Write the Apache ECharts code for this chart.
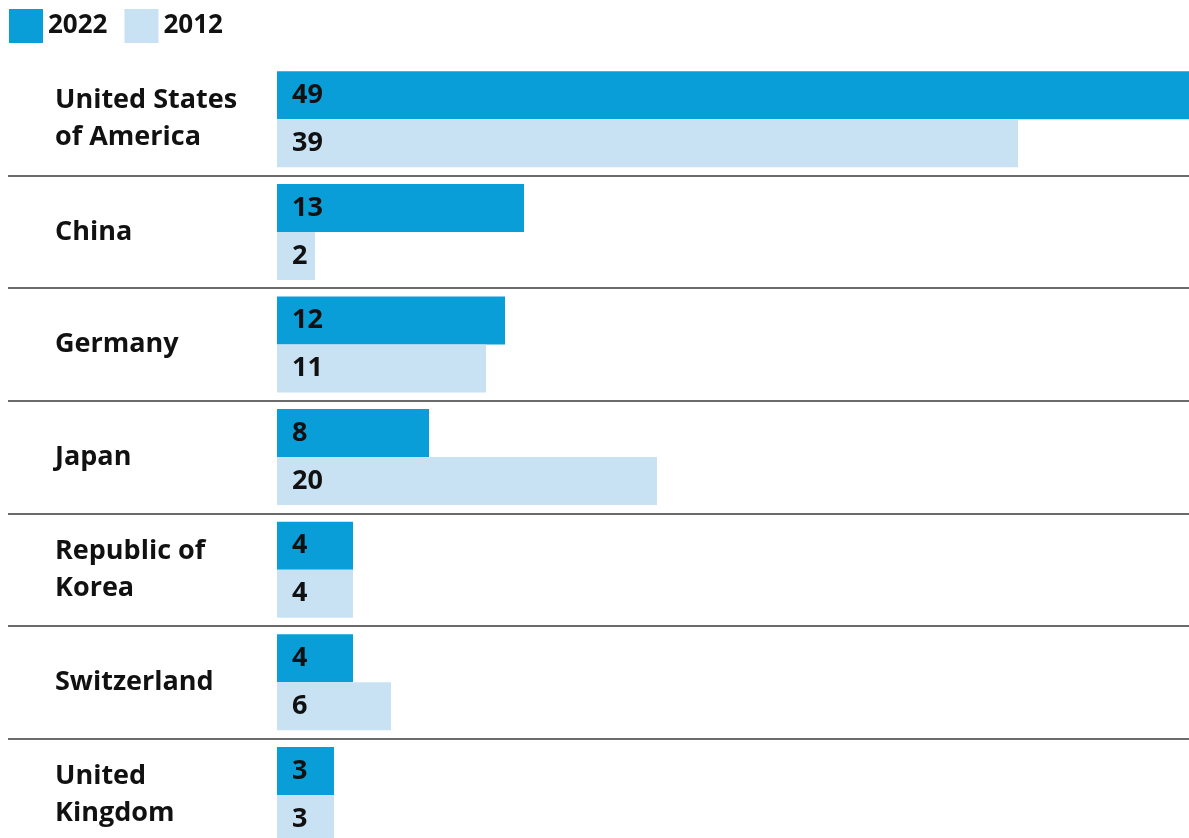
<!DOCTYPE html>
<html>
<head>
<meta charset="utf-8">
<script src="https://cdn.jsdelivr.net/npm/echarts@6/dist/echarts.min.js"></script>
<style>
  html, body { margin: 0; padding: 0; background: #ffffff; }
  #chart { width: 1189px; height: 838px; }
</style>
</head>
<body>
<div id="chart"></div>
<script>
// Countries, top to bottom
const countries = [
  'United States\nof America',
  'China',
  'Germany',
  'Japan',
  'Republic of\nKorea',
  'Switzerland',
  'United\nKingdom'
];
const seriesNames = ['2022', '2012'];
const values2022 = [49, 13, 12, 8, 4, 4, 3];
const values2012 = [39, 2, 11, 20, 4, 6, 3];

const FONT = '"Open Sans", "Noto Sans", sans-serif';
const DARK = '#0a9ed9';
const LIGHT = '#c8e2f4';

// Row geometry (the last row runs past the bottom edge)
const TOP = 63;
const ROW = 112.6;
const PX_PER_UNIT = 19;
const X_MAX = 49;

const chart = echarts.init(document.getElementById('chart'), null, { renderer: 'canvas' });

const valueLabel = {
  show: true,
  position: 'insideLeft',
  distance: 15,
  color: '#111111',
  fontFamily: FONT,
  fontWeight: 'bold',
  fontSize: 27
};

chart.setOption({
  animation: false,
  backgroundColor: '#ffffff',
  color: [DARK, LIGHT],
  legend: {
    left: 9,
    top: 9,
    padding: 0,
    icon: 'rect',
    itemWidth: 34,
    itemHeight: 34,
    itemGap: 17,
    data: seriesNames,
    textStyle: {
      color: '#111111',
      fontFamily: FONT,
      fontWeight: 'bold',
      fontSize: 26
    }
  },
  grid: [
    // bars
    {
      left: 277, top: TOP,
      width: X_MAX * PX_PER_UNIT, height: ROW * countries.length,
      outerBoundsMode: 'none', containLabel: false
    },
    // row separators spanning the full width
    {
      left: 8, right: 0, top: TOP, height: ROW * countries.length,
      outerBoundsMode: 'none', containLabel: false
    }
  ],
  xAxis: [
    { gridIndex: 0, type: 'value', min: 0, max: X_MAX, show: false },
    { gridIndex: 1, type: 'value', min: 0, max: 1, show: false }
  ],
  yAxis: [
    {
      gridIndex: 0,
      type: 'category',
      inverse: true,
      data: countries,
      axisLine: { show: false },
      axisTick: { show: false },
      splitLine: { show: false },
      axisLabel: {
        align: 'left',
        margin: 222,
        color: '#111111',
        fontFamily: FONT,
        fontWeight: 'bold',
        fontSize: 27,
        lineHeight: 37
      }
    },
    {
      gridIndex: 1,
      type: 'category',
      inverse: true,
      data: countries,
      axisLine: { show: false },
      axisTick: { show: false },
      axisLabel: { show: false },
      splitLine: {
        show: true,
        interval: (i) => i > 0,
        lineStyle: { color: '#3a3a3a', width: 1.5 }
      }
    }
  ],
  series: [
    {
      name: seriesNames[0],
      type: 'bar',
      xAxisIndex: 0,
      yAxisIndex: 0,
      data: values2022,
      barWidth: 48,
      barGap: '0%',
      itemStyle: { color: DARK },
      label: valueLabel
    },
    {
      name: seriesNames[1],
      type: 'bar',
      xAxisIndex: 0,
      yAxisIndex: 0,
      data: values2012,
      barWidth: 48,
      barGap: '0%',
      itemStyle: { color: LIGHT },
      label: valueLabel
    }
  ]
});
</script>
</body>
</html>
